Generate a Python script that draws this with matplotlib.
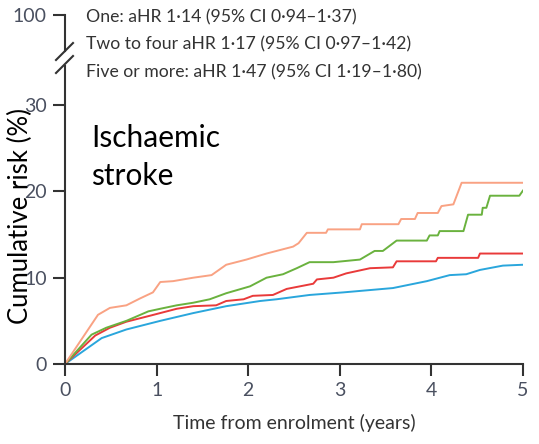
import matplotlib
matplotlib.use("Agg")
import matplotlib.pyplot as plt
from matplotlib.lines import Line2D

# cumulative risk (%) of ischaemic stroke vs years from enrolment
t_five = [0, 0.36, 0.49, 0.67, 0.82, 0.96, 1.04, 1.18, 1.40, 1.60, 1.76, 1.98, 2.20, 2.49,
          2.55, 2.64, 2.85, 2.87, 3.22, 3.24, 3.64, 3.67, 3.82, 3.85, 4.07, 4.11, 4.24, 4.33, 5.0]
v_five = [0, 5.7, 6.5, 6.8, 7.6, 8.3, 9.5, 9.6, 10.0, 10.3, 11.5, 12.1, 12.8, 13.6,
          14.0, 15.2, 15.2, 15.6, 15.6, 16.2, 16.2, 16.8, 16.8, 17.5, 17.5, 18.3, 18.5, 21.0, 21.0]

t_two = [0, 0.29, 0.45, 0.67, 0.91, 1.04, 1.22, 1.40, 1.58, 1.76, 2.02, 2.20, 2.38, 2.53,
         2.67, 2.93, 3.22, 3.38, 3.47, 3.62, 3.95, 3.98, 4.07, 4.09, 4.35, 4.40, 4.55, 4.56,
         4.60, 4.64, 4.96, 5.0]
v_two = [0, 3.4, 4.2, 5.0, 6.1, 6.4, 6.8, 7.1, 7.5, 8.2, 9.0, 10.0, 10.4, 11.1,
         11.8, 11.8, 12.1, 13.1, 13.1, 14.3, 14.3, 14.9, 14.9, 15.4, 15.4, 17.3, 17.3, 18.1,
         18.1, 19.5, 19.5, 20.1]

t_one = [0, 0.33, 0.49, 0.67, 0.93, 1.22, 1.40, 1.65, 1.76, 1.95, 2.05, 2.27, 2.42, 2.71,
         2.75, 2.93, 3.07, 3.33, 3.58, 3.62, 4.05, 4.07, 4.51, 4.53, 5.0]
v_one = [0, 3.3, 4.2, 4.9, 5.6, 6.4, 6.7, 6.8, 7.3, 7.5, 7.9, 8.0, 8.7, 9.3,
         9.8, 10.0, 10.5, 11.1, 11.2, 11.9, 11.9, 12.3, 12.3, 12.8, 12.8]

t_none = [0, 0.40, 0.67, 1.04, 1.40, 1.76, 2.13, 2.31, 2.67, 3.04, 3.58, 3.95, 4.20, 4.38,
          4.53, 4.78, 5.0]
v_none = [0, 3.0, 4.0, 5.0, 5.9, 6.7, 7.3, 7.5, 8.0, 8.3, 8.8, 9.6, 10.3, 10.4,
          10.9, 11.4, 11.5]

legend_lines = ["One: aHR 1·14 (95% CI 0·94–1·37)",
                "Two to four aHR 1·17 (95% CI 0·97–1·42)",
                "Five or more: aHR 1·47 (95% CI 1·19–1·80)"]
x_ticks = [0, 1, 2, 3, 4, 5]
y_ticks = [0, 10, 20, 30]

W, H = 539, 444
fig = plt.figure(figsize=(W / 100, H / 100), dpi=100)

spine_col = "#333333"
tick_col = "#4a5060"
txt_font = "Lato"


def fx(px):
    return px / W


def fy(py):
    return 1 - py / H


# main axes
ax = fig.add_axes([fx(65), fy(364), fx(523) - fx(65), fy(66) - fy(364)])
ax.plot(t_none, v_none, color="#2aa6dc", lw=1.4)
ax.plot(t_one, v_one, color="#e93a3a", lw=1.4)
ax.plot(t_two, v_two, color="#6ab23e", lw=1.4)
ax.plot(t_five, v_five, color="#f9a283", lw=1.4)
ax.set_xlim(0, 5)
ax.set_ylim(0, 298 / 8.63)
ax.set_xticks(x_ticks)
ax.set_yticks(y_ticks)
for s in ("top", "right"):
    ax.spines[s].set_visible(False)
for s in ("left", "bottom"):
    ax.spines[s].set_color(spine_col)
    ax.spines[s].set_linewidth(1.5)
ax.tick_params(length=8.5, width=1.5, color=spine_col, labelcolor=tick_col,
               labelsize=14, pad=4.5)
for lab in ax.get_xticklabels() + ax.get_yticklabels():
    lab.set_family(txt_font)
ax.set_xlabel("Time from enrolment (years)", family=txt_font, fontsize=14,
              color="#333333", labelpad=11)

# small top axes holding the 100 tick above the break
ax2 = fig.add_axes([fx(65), fy(51), fx(523) - fx(65), fy(15) - fy(51)])
ax2.set_ylim(96, 100)
ax2.set_xlim(0, 5)
ax2.set_yticks([100])
ax2.set_xticks([])
for s in ("top", "right", "bottom"):
    ax2.spines[s].set_visible(False)
ax2.spines["left"].set_color(spine_col)
ax2.spines["left"].set_linewidth(1.5)
ax2.tick_params(length=8.5, width=1.5, color=spine_col, labelcolor=tick_col,
                labelsize=14, pad=4.5)
for lab in ax2.get_yticklabels():
    lab.set_family(txt_font)
ax2.patch.set_visible(False)

# break marks
for y0 in (60, 73):
    fig.add_artist(Line2D([fx(56), fx(73)], [fy(y0), fy(y0 - 17)],
                          color=spine_col, lw=1.5))

# hazard ratio text
for i, s in enumerate(legend_lines):
    fig.text(fx(86), fy(17 + 27.5 * i), s, family=txt_font, fontsize=12.7,
             color="#333333", va="center", ha="left")

fig.text(fx(91), fy(147), "Ischaemic", family=txt_font, fontsize=21.5,
         color="black", va="baseline", ha="left")
fig.text(fx(91), fy(185), "stroke", family=txt_font, fontsize=21.5,
         color="black", va="baseline", ha="left")
fig.text(fx(20), fy(216), "Cumulative risk (%)", family=txt_font, fontsize=18.5,
         color="black", rotation=90, va="center", ha="center")

fig.savefig("out.png", dpi=100)
